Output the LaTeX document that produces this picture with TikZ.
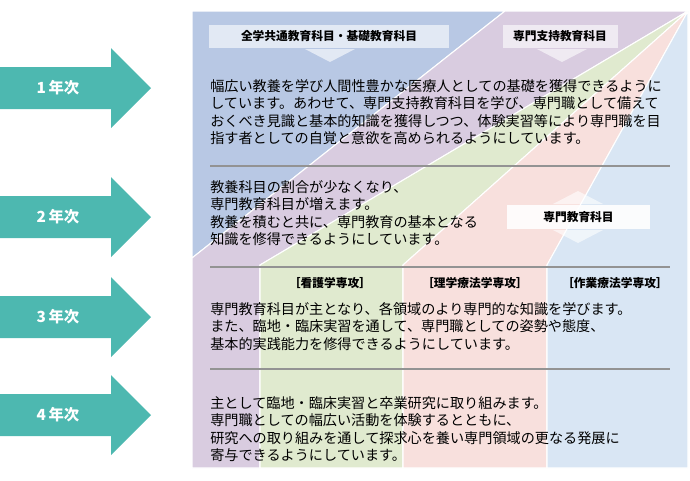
\documentclass[tikz,border=0pt]{standalone}
\usepackage{fontspec}
\setmainfont{Noto Sans CJK JP}
\usetikzlibrary{positioning}
\definecolor{teal1}{HTML}{4DB8B0}
\definecolor{zoneA}{HTML}{B8C8E4}
\definecolor{zoneB}{HTML}{D9CCE0}
\definecolor{zoneC}{HTML}{E0EACF}
\definecolor{zoneD}{HTML}{F8E0DD}
\definecolor{zoneE}{HTML}{D9E6F4}
\begin{document}
\begin{tikzpicture}[x=0.75pt,y=-0.75pt,
    zone/.style={draw=white, line width=0.8pt},
    yeartext/.style={text=white, font=\fontsize{11.5}{13}\selectfont\bfseries},
    body/.style={anchor=north west, inner sep=0pt, align=left, font=\fontsize{10.6}{13.1}\selectfont},
    tag/.style={fill=white, fill opacity=0.6, text opacity=1, inner sep=0pt, font=\fontsize{8.8}{10}\selectfont\bfseries},
    major/.style={font=\fontsize{8.8}{10}\selectfont\bfseries, inner sep=0pt},
    rule/.style={draw=gray!85, line width=1.5pt}]
    \useasboundingbox (0,0) rectangle (690,480);
    % background zones
    \fill[zoneA, zone] (192,11) -- (505,11) -- (192,258) -- cycle;
    \fill[zoneB, zone] (505,11) -- (688,11) -- (260,265) -- (260,468) -- (192,468) -- (192,258) -- cycle;
    \fill[zoneC, zone] (688,11) -- (260,265) -- (260,468) -- (403,468) -- (403,265) -- cycle;
    \fill[zoneD, zone] (688,11) -- (403,265) -- (403,468) -- (547,468) -- (547,265) -- cycle;
    \fill[zoneE, zone] (688,11) -- (547,265) -- (547,468) -- (688,468) -- cycle;
    % year arrows
    \foreach \yy/\lab/\nm in {88/1/yr1, 217/2/yr2, 317/3/yr3, 415/4/yr4} {
        \fill[teal1] (0,\yy-21) -- (111,\yy-21) -- (111,\yy-40) -- (151,\yy) -- (111,\yy+40) -- (111,\yy+21) -- (0,\yy+21) -- cycle;
        \node[yeartext] (\nm) at (58,\yy) {\lab\,年次};
    }
    % subject tags
    \node[tag, minimum width=240*0.75pt, minimum height=23*0.75pt] (common) at (329,36.5) {全学共通教育科目・基礎教育科目};
    \fill[white, opacity=0.6] (305,49) -- (355,49) -- (330,62) -- cycle;
    \node[tag, minimum width=115*0.75pt, minimum height=23*0.75pt] (support) at (560,36.5) {専門支持教育科目};
    \fill[white, opacity=0.6] (537,49) -- (587,49) -- (562,62) -- cycle;
    \fill[white, opacity=0.6] (553,204) -- (603,204) -- (578,191) -- cycle;
    \fill[white, opacity=0.6] (553,230) -- (603,230) -- (578,243) -- cycle;
    \node[tag, fill opacity=0.9, minimum width=143*0.75pt, minimum height=24*0.75pt] (special) at (578.5,217) {専門教育科目};
    % separators
    \draw[rule] (210,166) -- (670,166);
    \draw[rule] (210,267) -- (670,267);
    \draw[rule] (210,369) -- (670,369);
    % majors
    \node[major] (nurse) at (330,283) {［看護学専攻］};
    \node[major] (pt) at (475,283) {［理学療法学専攻］};
    \node[major] (ot) at (615,283) {［作業療法学専攻］};
    % body texts
    \node[body] (text1) at (210,79) {幅広い教養を学び人間性豊かな医療人としての基礎を獲得できるように\\
        しています。あわせて、専門支持教育科目を学び、専門職として備えて\\
        おくべき見識と基本的知識を獲得しつつ、体験実習等により専門職を目\\
        指す者としての自覚と意欲を高められるようにしています。};
    \node[body] (text2) at (210,180) {教養科目の割合が少なくなり、\\
        専門教育科目が増えます。\\
        教養を積むと共に、専門教育の基本となる\\
        知識を修得できるようにしています。};
    \node[body] (text3) at (210,302) {専門教育科目が主となり、各領域のより専門的な知識を学びます。\\
        また、臨地・臨床実習を通して、専門職としての姿勢や態度、\\
        基本的実践能力を修得できるようにしています。};
    \node[body] (text4) at (210,396) {主として臨地・臨床実習と卒業研究に取り組みます。\\
        専門職としての幅広い活動を体験するとともに、\\
        研究への取り組みを通して探求心を養い専門領域の更なる発展に\\
        寄与できるようにしています。};
\end{tikzpicture}
\end{document}
